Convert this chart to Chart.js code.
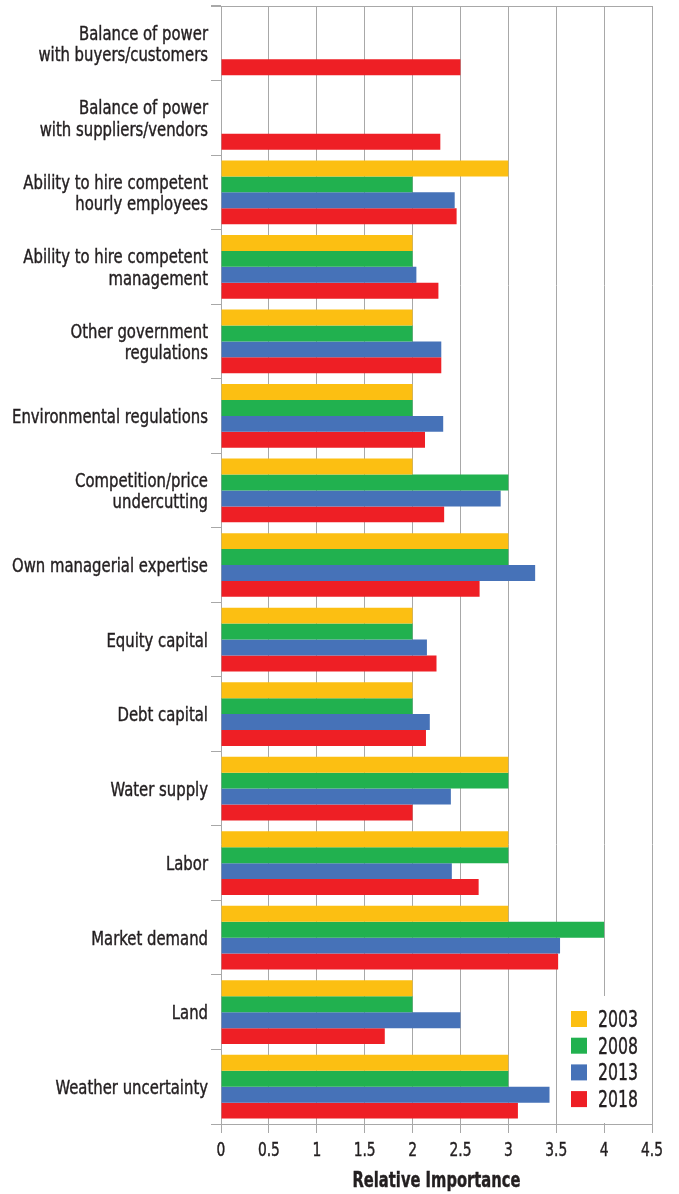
<!DOCTYPE html>
<html>
<head>
<meta charset="utf-8">
<script src="https://cdn.jsdelivr.net/npm/chart.js@4/dist/chart.umd.min.js"></script>
<style>
  body { margin: 0; background: #fff; }
  canvas { display: block; }
</style>
</head>
<body>
<canvas id="barChart" width="679" height="1194"></canvas>
<script>
const categories = [
  ['Balance of power', 'with buyers/customers'],
  ['Balance of power', 'with suppliers/vendors'],
  ['Ability to hire competent', 'hourly employees'],
  ['Ability to hire competent', 'management'],
  ['Other government', 'regulations'],
  'Environmental regulations',
  ['Competition/price', 'undercutting'],
  'Own managerial expertise',
  'Equity capital',
  'Debt capital',
  'Water supply',
  'Labor',
  'Market demand',
  'Land',
  'Weather uncertainty'
];

const v2003 = [null, null, 3, 2, 2, 2, 2, 3, 2, 2, 3, 3, 3, 2, 3];
const v2008 = [null, null, 2, 2, 2, 2, 3, 3, 2, 2, 3, 3, 4, 2, 3];
const v2013 = [null, null, 2.44, 2.04, 2.3, 2.32, 2.92, 3.28, 2.15, 2.18, 2.4, 2.41, 3.54, 2.5, 3.43];
const v2018 = [2.5, 2.29, 2.46, 2.27, 2.3, 2.13, 2.33, 2.7, 2.25, 2.14, 2.0, 2.69, 3.52, 1.71, 3.1];

const xTicks = ['0', '0.5', '1', '1.5', '2', '2.5', '3', '3.5', '4', '4.5'];
const axisTitle = 'Relative Importance';

const FONT = "'DejaVu Sans Condensed', 'DejaVu Sans', sans-serif";
const TEXT = '#231f20';
const GRID = '#a8a8a8';

// the original uses a condensed face; squeeze text horizontally to the same widths
function narrowText(c, text, x, y, align, sx) {
  c.save();
  c.translate(x, y);
  c.scale(sx, 1);
  c.textAlign = align;
  c.fillText(text, 0, 0);
  c.strokeText(text, 0, 0);
  c.restore();
}

// labels, top rule and legend, drawn over the plot
const extras = {
  id: 'extras',
  afterDraw(chart) {
    const c = chart.ctx;
    const a = chart.chartArea;
    const xs = chart.scales.x;
    const ys = chart.scales.y;
    c.save();
    c.textBaseline = 'alphabetic';
    c.fillStyle = TEXT;
    c.strokeStyle = TEXT;
    c.lineWidth = 0.4;

    // category labels
    c.font = '19px ' + FONT;
    const sy = 196 / c.measureText('Environmental regulations').width;
    categories.forEach((lab, i) => {
      const y = ys.getPixelForTick(i);
      const lines = Array.isArray(lab) ? lab : [lab];
      const top = y + 7 - (lines.length - 1) * 10.7;
      lines.forEach((ln, k) => narrowText(c, ln, a.left - 13, top + k * 21.4, 'right', sy));
    });

    // x tick labels
    c.font = '19px ' + FONT;
    const sxT = 22 / c.measureText('0.5').width;
    xs.ticks.forEach((t, i) => {
      narrowText(c, xTicks[i], xs.getPixelForTick(i), a.bottom + 32, 'center', sxT);
    });

    // axis title
    c.font = 'bold 21px ' + FONT;
    const sxH = 168 / c.measureText(axisTitle).width;
    narrowText(c, axisTitle, (a.left + a.right) / 2, a.bottom + 63, 'center', sxH);

    // top rule
    c.strokeStyle = GRID;
    c.lineWidth = 1;
    c.beginPath();
    c.moveTo(a.left - 10, a.top + 0.5);
    c.lineTo(a.right, a.top + 0.5);
    c.stroke();

    // legend
    c.fillStyle = '#fff';
    c.fillRect(a.right - 92, a.bottom - 128, 91, 127);
    c.font = '23px ' + FONT;
    c.strokeStyle = TEXT;
    c.lineWidth = 0.4;
    const sxL = 40 / c.measureText('2003').width;
    chart.data.datasets.forEach((ds, i) => {
      const y = a.bottom - 105 + i * 26.7;
      c.fillStyle = ds.backgroundColor;
      c.fillRect(a.right - 81, y - 8, 16, 16);
      c.fillStyle = TEXT;
      narrowText(c, ds.label, a.right - 54, y + 8, 'left', sxL);
    });
    c.restore();
  }
};

const ctx = window.document.querySelector('#barChart').getContext('2d');

new Chart(ctx, {
  type: 'bar',
  data: {
    labels: categories,
    datasets: [
      { label: '2003', data: v2003, backgroundColor: '#fcbf12' },
      { label: '2008', data: v2008, backgroundColor: '#21b14f' },
      { label: '2013', data: v2013, backgroundColor: '#4672b8' },
      { label: '2018', data: v2018, backgroundColor: '#ee1f25' }
    ]
  },
  options: {
    indexAxis: 'y',
    responsive: false,
    animation: false,
    devicePixelRatio: 1,
    categoryPercentage: 0.855,
    barPercentage: 1.0,
    layout: { padding: { left: 0, right: 27, top: 6, bottom: 0 } },
    plugins: {
      legend: { display: false },
      tooltip: { enabled: false }
    },
    scales: {
      x: {
        min: 0,
        max: 4.5,
        afterFit: (s) => { s.height = 70; },
        ticks: { stepSize: 0.5, display: false },
        grid: { color: GRID, lineWidth: 1, tickLength: 9 },
        border: { color: GRID }
      },
      y: {
        afterFit: (s) => { s.width = 221; },
        ticks: { display: false },
        grid: { drawOnChartArea: false, color: GRID, tickLength: 10 },
        border: { display: false }
      }
    }
  },
  plugins: [extras]
});
</script>
</body>
</html>
